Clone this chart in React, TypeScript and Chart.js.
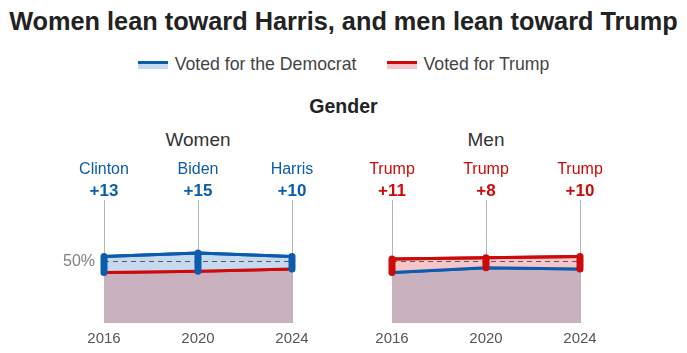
import React, { useEffect, useRef } from "react";
import { Chart, registerables } from "chart.js";

Chart.register(...registerables);

const years = ["2016", "2020", "2024"];
const womenDem = [54, 57, 54];
const womenTrump = [41, 42, 44];
const womenNames = ["Clinton", "Biden", "Harris"];
const womenMargins = ["+13", "+15", "+10"];
const menDem = [41, 45, 44];
const menTrump = [52, 53, 54];
const menNames = ["Trump", "Trump", "Trump"];
const menMargins = ["+11", "+8", "+10"];

const BLUE = "#0b5cad";
const LIGHT_BLUE = "#c7d9ee";
const RED = "#cc0a0a";
const LIGHT_RED = "#f4c6ca";
const MAUVE = "#c9b1bf";
const FONT = "'Liberation Sans', Arial, sans-serif";

type PanelProps = {
  dem: number[];
  trump: number[];
  names: string[];
  margins: string[];
  winner: "dem" | "rep";
  showFifty: boolean;
};

function Panel({ dem, trump, names, margins, winner, showFifty }: PanelProps) {
  const ref = useRef<HTMLCanvasElement | null>(null);
  useEffect(() => {
    if (!ref.current) return;
    const winColor = winner === "dem" ? BLUE : RED;
    const overlay = {
      id: "overlay",
      afterDatasetsDraw(chart: any) {
        const { ctx, chartArea, scales } = chart;
        ctx.save();
        const y50 = scales.y.getPixelForValue(50);
        ctx.strokeStyle = "#5a5a5a";
        ctx.lineWidth = 1;
        ctx.setLineDash([5, 4]);
        ctx.beginPath();
        ctx.moveTo(chartArea.left, y50);
        ctx.lineTo(chartArea.right, y50);
        ctx.stroke();
        ctx.setLineDash([]);
        const drawLine = (vals: number[], color: string) => {
          ctx.strokeStyle = color;
          ctx.lineWidth = 3;
          ctx.lineJoin = "round";
          ctx.beginPath();
          vals.forEach((v, i) => {
            const x = scales.x.getPixelForValue(i);
            const yy = scales.y.getPixelForValue(v);
            if (i === 0) ctx.moveTo(x, yy);
            else ctx.lineTo(x, yy);
          });
          ctx.stroke();
        };
        if (winner === "dem") {
          drawLine(trump, RED);
          drawLine(dem, BLUE);
        } else {
          drawLine(dem, BLUE);
          drawLine(trump, RED);
        }
        ctx.strokeStyle = winColor;
        ctx.lineWidth = 7;
        ctx.lineCap = "round";
        years.forEach((_, i) => {
          const x = scales.x.getPixelForValue(i);
          ctx.beginPath();
          ctx.moveTo(x, scales.y.getPixelForValue(dem[i]));
          ctx.lineTo(x, scales.y.getPixelForValue(trump[i]));
          ctx.stroke();
        });
        ctx.fillStyle = winColor;
        ctx.textAlign = "center";
        ctx.textBaseline = "middle";
        years.forEach((_, i) => {
          const x = scales.x.getPixelForValue(i);
          ctx.font = `16px ${FONT}`;
          ctx.fillText(names[i], x, chartArea.top - 30);
          ctx.font = `bold 17px ${FONT}`;
          ctx.fillText(margins[i], x, chartArea.top - 9);
        });
        if (showFifty) {
          ctx.fillStyle = "#808080";
          ctx.font = `16px ${FONT}`;
          ctx.textAlign = "right";
          ctx.fillText("50%", chartArea.left - 9, y50);
        }
        ctx.restore();
      },
    };
    const upperIsDem = winner === "dem";
    const datasets = upperIsDem
      ? [
          { label: "Dem", data: dem, borderColor: BLUE, borderWidth: 3, backgroundColor: LIGHT_BLUE, fill: "+1", pointRadius: 0 },
          { label: "Trump", data: trump, borderColor: RED, borderWidth: 3, backgroundColor: MAUVE, fill: "origin", pointRadius: 0 },
        ]
      : [
          { label: "Trump", data: trump, borderColor: RED, borderWidth: 3, backgroundColor: LIGHT_RED, fill: "+1", pointRadius: 0 },
          { label: "Dem", data: dem, borderColor: BLUE, borderWidth: 3, backgroundColor: MAUVE, fill: "origin", pointRadius: 0 },
        ];
    const chart = new Chart(ref.current, {
      type: "line",
      data: { labels: years, datasets: datasets as any },
      options: {
        animation: false,
        responsive: false,
        layout: { padding: { left: 54, right: 48, top: 55, bottom: 8 } },
        plugins: { legend: { display: false }, tooltip: { enabled: false } },
        scales: {
          x: {
            offset: false,
            border: { display: false },
            grid: { color: "#b5b5b5", lineWidth: 1, drawTicks: false },
            ticks: { color: "#555", font: { size: 15, family: FONT }, padding: 7, maxRotation: 0 },
          },
          y: { display: false, min: 0, max: 100 },
        },
      },
      plugins: [overlay],
    });
    return () => chart.destroy();
  }, []);
  return <canvas ref={ref} width={290} height={218} style={{ display: "block", width: 290, height: 218 }} />;
}

function LegendItem({ color, light, text }: { color: string; light: string; text: string }) {
  return (
    <div style={{ display: "flex", alignItems: "center", gap: 7 }}>
      <div style={{ width: 30, height: 8, display: "flex", flexDirection: "column" }}>
        <div style={{ height: 3, background: color }} />
        <div style={{ height: 5, background: light }} />
      </div>
      <span style={{ fontSize: 17.7, color: "#444" }}>{text}</span>
    </div>
  );
}

export default function App() {
  return (
    <div style={{ position: "fixed", left: 0, top: 0, width: 687, height: 353, background: "#fff", fontFamily: FONT, overflow: "hidden" }}>
      <div style={{ position: "absolute", left: 0, width: 687, top: 7, textAlign: "center", fontSize: 25.3, fontWeight: "bold", color: "#222", whiteSpace: "nowrap" }}>
        Women lean toward Harris, and men lean toward Trump
      </div>
      <div style={{ position: "absolute", left: 0, width: 687, top: 54, display: "flex", justifyContent: "center", gap: 30 }}>
        <LegendItem color={BLUE} light={LIGHT_BLUE} text="Voted for the Democrat" />
        <LegendItem color={RED} light={LIGHT_RED} text="Voted for Trump" />
      </div>
      <div style={{ position: "absolute", left: 0, width: 687, top: 95, textAlign: "center", fontSize: 19.5, fontWeight: "bold", color: "#222" }}>
        Gender
      </div>
      <div style={{ position: "absolute", left: 98, width: 200, top: 129, textAlign: "center", fontSize: 19, color: "#333" }}>Women</div>
      <div style={{ position: "absolute", left: 386, width: 200, top: 129, textAlign: "center", fontSize: 19, color: "#333" }}>Men</div>
      <div style={{ position: "absolute", left: 50, top: 145 }}>
        <Panel dem={womenDem} trump={womenTrump} names={womenNames} margins={womenMargins} winner="dem" showFifty={true} />
      </div>
      <div style={{ position: "absolute", left: 338, top: 145 }}>
        <Panel dem={menDem} trump={menTrump} names={menNames} margins={menMargins} winner="rep" showFifty={false} />
      </div>
    </div>
  );
}
